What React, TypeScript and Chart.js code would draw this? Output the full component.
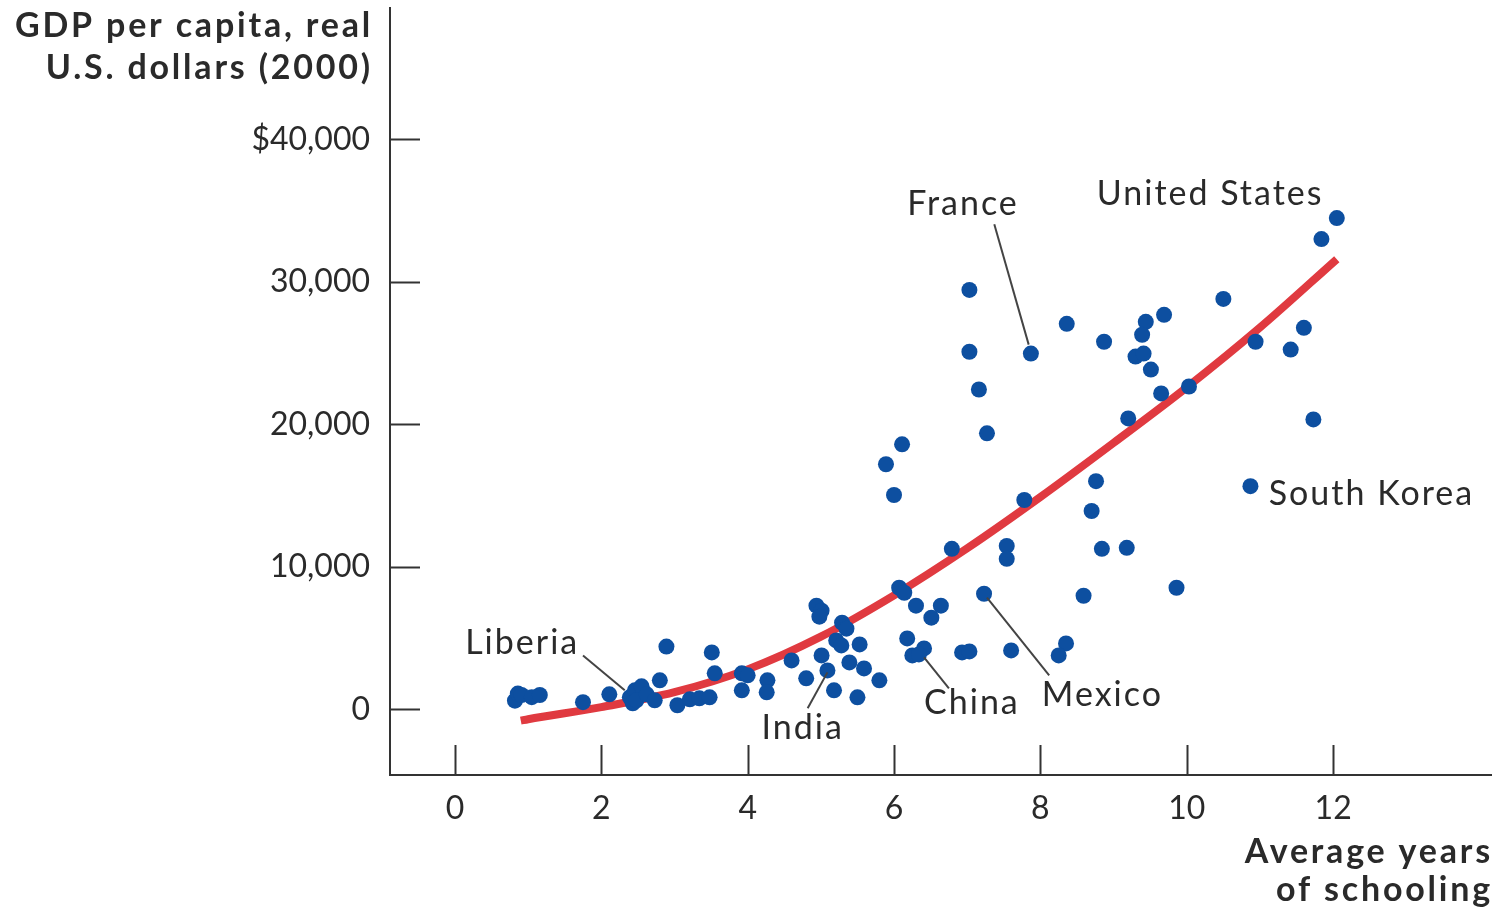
import React, { useEffect, useRef } from "react";
import { Chart, registerables } from "chart.js";

Chart.register(...registerables);

// Scatter: average years of schooling vs GDP per capita (real US$, 2000)
const schoolingYears = [
  0.82, 0.86, 0.91, 1.05, 1.16, 1.75, 2.11, 2.39, 2.46, 2.55, 2.43, 2.48, 2.62, 2.73, 2.8, 2.89,
  3.04, 3.21, 3.34, 3.48, 3.51, 3.55, 3.92, 4.0, 3.92, 4.27, 4.26, 4.6, 4.8, 5.01, 5.09, 5.18,
  5.5, 4.94, 5.01, 4.98, 5.29, 5.35, 5.21, 5.28, 5.53, 5.39, 5.59, 5.8, 6.07, 6.14, 6.3, 6.64,
  6.51, 6.18, 6.25, 6.41, 6.34, 6.93, 7.03, 7.6, 8.35, 8.25, 7.23, 8.59, 9.86, 6.11, 5.89, 6.0,
  7.27, 7.78, 6.79, 7.54, 7.54, 8.76, 8.7, 8.84, 9.18, 10.87, 7.03, 7.03, 7.87, 7.16, 8.36, 8.87,
  9.44, 9.69, 9.39, 9.3, 9.41, 9.51, 9.65, 10.03, 9.2, 10.5, 10.94, 11.6, 11.42, 11.73, 12.05, 11.84,
];
const gdpPerCapita = [
  600, 1100, 1000, 850, 1000, 500, 1050, 840, 1330, 1610, 420, 630, 1050, 630, 2030, 4400,
  280, 700, 770, 840, 3990, 2520, 2520, 2380, 1330, 2030, 1190, 3430, 2170, 3780, 2730, 1330,
  840, 7270, 6920, 6500, 6080, 5660, 4830, 4480, 4550, 3290, 2870, 2030, 8530, 8180, 7270, 7270,
  6430, 4970, 3780, 4270, 3850, 3990, 4060, 4130, 4620, 3780, 8110, 7970, 8530, 18600, 17200, 15040,
  19370, 14690, 11260, 11470, 10560, 16010, 13920, 11260, 11330, 15660, 29440, 25100, 24970, 22450, 27060, 25800,
  27200, 27690, 26290, 24760, 24970, 23850, 22170, 22660, 20420, 28810, 25800, 26780, 25250, 20350, 34480, 33010,
];

// Fitted curve
const curveYears = [0.9, 1, 2, 3, 4, 5, 6, 7, 8, 9, 10, 11, 12.05];
const curveGdp = [-800, -700, 150, 1200, 2800, 5100, 8000, 11300, 14900, 18700, 22600, 26800, 31600];

// Axis ticks
const xTicks = [0, 2, 4, 6, 8, 10, 12];
const yTicks = [0, 10000, 20000, 30000, 40000];
const yTickLabels = ["0", "10,000", "20,000", "30,000", "$40,000"];

// Country annotations (text anchor, left aligned, vertically centred)
const labelNames = ["France", "United States", "South Korea", "Liberia", "India", "China", "Mexico"];
const labelX = [6.18, 8.77, 11.12, 0.14, 4.19, 6.41, 8.02];
const labelY = [35450, 36150, 15100, 4620, -1330, 420, 980];

// Leader lines: from (x1,y1) to (x2,y2)
const leaderX1 = [7.37, 1.75, 4.82, 6.75, 8.12];
const leaderY1 = [34050, 3780, 70, 1470, 2380];
const leaderX2 = [7.84, 2.32, 5.09, 6.41, 7.27];
const leaderY2 = [25600, 1330, 2590, 3640, 7830];

const yTitleLines = ["GDP per capita, real", "U.S. dollars (2000)"];
const xTitleLines = ["Average years", "of schooling"];

const TEXT = "#2a2a2a";
const FONT = "Lato, 'Open Sans', sans-serif";

const decorPlugin = {
  id: "decor",
  afterDatasetsDraw(chart: any) {
    const { ctx, scales } = chart;
    const xs = scales.x;
    const ys = scales.y;
    ctx.save();
    // inward tick marks
    ctx.strokeStyle = "#333";
    ctx.lineWidth = 2;
    yTicks.forEach((v) => {
      const py = Math.round(ys.getPixelForValue(v)) + 0.5;
      ctx.beginPath();
      ctx.moveTo(xs.left, py);
      ctx.lineTo(xs.left + 30, py);
      ctx.stroke();
    });
    xTicks.forEach((v) => {
      const px = Math.round(xs.getPixelForValue(v)) + 0.5;
      ctx.beginPath();
      ctx.moveTo(px, ys.bottom);
      ctx.lineTo(px, ys.bottom - 30);
      ctx.stroke();
    });
    // leader lines
    ctx.strokeStyle = "#444";
    ctx.lineWidth = 2;
    for (let i = 0; i < leaderX1.length; i++) {
      ctx.beginPath();
      ctx.moveTo(xs.getPixelForValue(leaderX1[i]), ys.getPixelForValue(leaderY1[i]));
      ctx.lineTo(xs.getPixelForValue(leaderX2[i]), ys.getPixelForValue(leaderY2[i]));
      ctx.stroke();
    }
    // country labels
    ctx.fillStyle = TEXT;
    ctx.font = `34px ${FONT}`;
    (ctx as any).letterSpacing = "2px";
    ctx.textAlign = "left";
    ctx.textBaseline = "middle";
    labelNames.forEach((name, i) => {
      ctx.fillText(name, xs.getPixelForValue(labelX[i]), ys.getPixelForValue(labelY[i]));
    });
    // axis titles
    ctx.font = `bold 34px ${FONT}`;
    (ctx as any).letterSpacing = "2.8px";
    ctx.textAlign = "right";
    ctx.fillText(yTitleLines[0], 373, 26);
    ctx.fillText(yTitleLines[1], 373, 68);
    ctx.fillText(xTitleLines[0], 1493, 852);
    ctx.fillText(xTitleLines[1], 1493, 890);
    ctx.restore();
  },
};

export default function App() {
  const ref = useRef<HTMLCanvasElement | null>(null);
  useEffect(() => {
    if (!ref.current) return;
    const chart = new Chart(ref.current, {
      type: "scatter",
      data: {
        datasets: [
          {
            label: "Countries",
            data: schoolingYears.map((x, i) => ({ x, y: gdpPerCapita[i] })),
            backgroundColor: "#0d4fa0",
            borderColor: "#0d4fa0",
            pointRadius: 8,
            pointBorderWidth: 0,
          },
          {
            label: "Trend",
            data: curveYears.map((x, i) => ({ x, y: curveGdp[i] })),
            showLine: true,
            borderColor: "#e03a40",
            borderWidth: 8,
            pointRadius: 0,
            cubicInterpolationMode: "monotone",
            fill: false,
          },
        ],
      },
      options: {
        animation: false,
        responsive: true,
        maintainAspectRatio: false,
        layout: { padding: { top: 5, right: 7, left: 0, bottom: 0 } },
        plugins: { legend: { display: false }, tooltip: { enabled: false } },
        scales: {
          x: {
            type: "linear",
            min: -0.887,
            max: 14.157,
            grid: { display: false, drawTicks: false },
            border: { display: true, color: "#333", width: 2 },
            afterBuildTicks: (s: any) => {
              s.ticks = xTicks.map((v) => ({ value: v }));
            },
            afterFit: (s: any) => {
              s.height = 137;
              s.paddingLeft = 0;
              s.paddingRight = 0;
            },
            ticks: {
              color: TEXT,
              font: { family: FONT, size: 32 },
              padding: 14,
              maxRotation: 0,
              callback: (v: any) => String(v),
            },
          },
          y: {
            type: "linear",
            min: -4615,
            max: 49231,
            grid: { display: false, drawTicks: false },
            border: { display: true, color: "#333", width: 2 },
            afterBuildTicks: (s: any) => {
              s.ticks = yTicks.map((v) => ({ value: v }));
            },
            afterFit: (s: any) => {
              s.width = 390;
              s.paddingTop = 0;
              s.paddingBottom = 0;
            },
            ticks: {
              color: TEXT,
              font: { family: FONT, size: 32 },
              padding: 20,
              callback: (v: any) => {
                const idx = yTicks.indexOf(Number(v));
                return idx >= 0 ? yTickLabels[idx] : "";
              },
            },
          },
        },
      },
      plugins: [decorPlugin],
    });
    return () => chart.destroy();
  }, []);
  return (
    <div style={{ position: "fixed", left: 0, top: 0, width: 1499, height: 912, background: "#fff" }}>
      <canvas ref={ref} />
    </div>
  );
}
